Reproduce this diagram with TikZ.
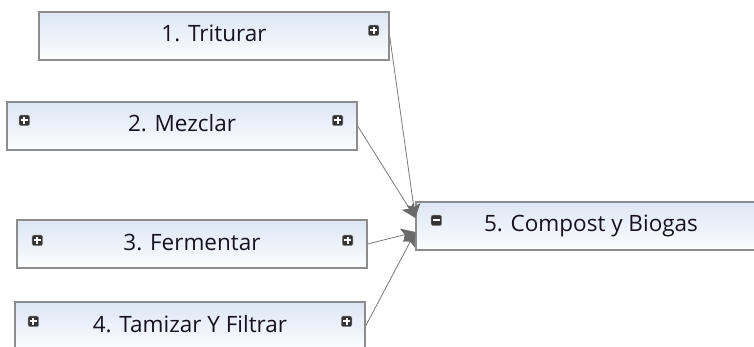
\documentclass[tikz,border=0pt]{standalone}
\usepackage{fontspec}
\setmainfont{Open Sans}
\usetikzlibrary{arrows.meta}
\definecolor{boxborder}{HTML}{8C8C8C}
\definecolor{boxtop}{HTML}{DCE6F4}
\definecolor{boxbot}{HTML}{FCFDFE}
\definecolor{icondark}{HTML}{333333}
\definecolor{linkgray}{HTML}{7A7A7A}
\definecolor{headgray}{HTML}{6A6A6A}
\definecolor{txt}{HTML}{16121F}
\begin{document}
\begin{tikzpicture}[x=1pt,y=-1pt,
  stepbox/.style={draw=boxborder, line width=1.3pt, top color=boxtop, bottom color=boxbot,
    minimum width=350pt, minimum height=48pt, inner sep=0pt,
    text height=18pt, text depth=6pt, font=\fontsize{22.5pt}{26pt}\selectfont, text=txt},
  iconbase/.style={draw=icondark!60, line width=0.6pt, fill=icondark, rounded corners=1.5pt, minimum size=10.5pt, inner sep=0pt},
  plusicon/.style={iconbase, path picture={
      \draw[white,line width=2pt] ([xshift=-3.5pt]path picture bounding box.center) -- ([xshift=3.5pt]path picture bounding box.center)
        ([yshift=-3.5pt]path picture bounding box.center) -- ([yshift=3.5pt]path picture bounding box.center);}},
  minusicon/.style={iconbase, path picture={
      \draw[white,line width=2pt] ([xshift=-3.5pt]path picture bounding box.center) -- ([xshift=3.5pt]path picture bounding box.center);}},
  link/.style={draw=linkgray, line width=0.8pt, -{Stealth[length=14pt,width=14pt,inset=3pt,fill=headgray,color=headgray]}}
]
\useasboundingbox (0,0) rectangle (754,347);
\clip (0,0) rectangle (754,347);

\node[stepbox] (b1) at (214,36) {1. Triturar};
\node[stepbox] (b2) at (182,126) {2. Mezclar};
\node[stepbox] (b3) at (192,244) {3. Fermentar};
\node[stepbox] (b4) at (190,326) {4. Tamizar Y Filtrar};
\node[stepbox] (b5) at (591,226) {5. Compost y Biogas};

\node[plusicon] (i1r) at ([xshift=-16pt,yshift=-19pt]b1.north east) {};
\node[plusicon] (i2l) at ([xshift=18pt,yshift=-19pt]b2.north west) {};
\node[plusicon] (i2r) at ([xshift=-20pt,yshift=-19pt]b2.north east) {};
\node[plusicon] (i3l) at ([xshift=21pt,yshift=-21pt]b3.north west) {};
\node[plusicon] (i3r) at ([xshift=-20pt,yshift=-21pt]b3.north east) {};
\node[plusicon] (i4l) at ([xshift=19pt,yshift=-20pt]b4.north west) {};
\node[plusicon] (i4r) at ([xshift=-19pt,yshift=-20pt]b4.north east) {};
\node[minusicon] (i5l) at ([xshift=21pt,yshift=-19pt]b5.north west) {};

\draw[link] (b1.east) -- ([yshift=8pt]b5.west);
\draw[link] (b2.east) -- ([yshift=8pt]b5.west);
\draw[link] (b3.east) -- ([yshift=-6pt]b5.west);
\draw[link] (b4.east) -- ([yshift=-6pt]b5.west);
\end{tikzpicture}
\end{document}
